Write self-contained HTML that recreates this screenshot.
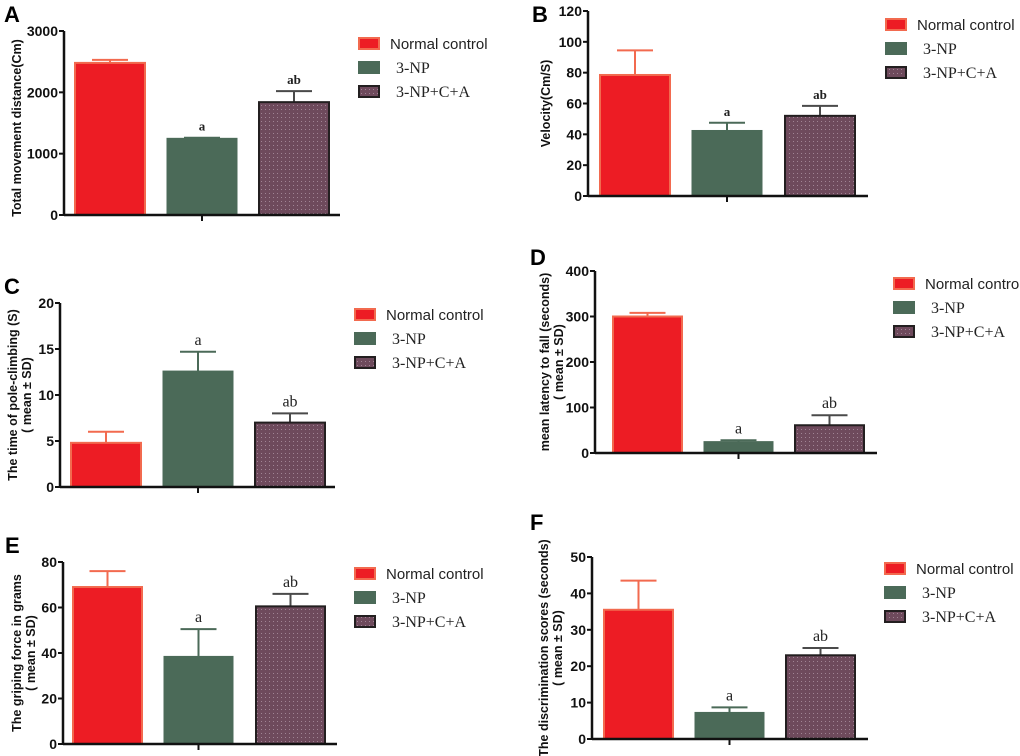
<!DOCTYPE html>
<html><head><meta charset="utf-8">
<style>
html,body{margin:0;padding:0;background:#fff;width:1020px;height:756px;overflow:hidden}
svg{display:block}
</style></head>
<body>
<svg id="fig" width="1020" height="756" viewBox="0 0 1020 756" xmlns="http://www.w3.org/2000/svg">
<defs>
<pattern id="dots" width="4" height="4" patternUnits="userSpaceOnUse">
<rect width="4" height="4" fill="#6e4a5c"/><rect x="1" y="1" width="1" height="1" fill="#a08494"/>
</pattern>
</defs>
</svg>
<script>
const groups = ["Normal control","3-NP","3-NP+C+A"];
const valuesA = [2480,1250,1840]; const errA = [50,10,180]; const sigA = ["","a","ab"];
const ticksA = [0,1000,2000,3000];
const valuesB = [78.5,42.5,52]; const errB = [16,5,6.5]; const sigB = ["","a","ab"];
const ticksB = [0,20,40,60,80,100,120];
const valuesC = [4.8,12.6,7.0]; const errC = [1.2,2.1,1.0]; const sigC = ["","a","ab"];
const ticksC = [0,5,10,15,20];
const valuesD = [300,25,61]; const errD = [8,3,22]; const sigD = ["","a","ab"];
const ticksD = [0,100,200,300,400];
const valuesE = [69,38.5,60.5]; const errE = [7,12,5.5]; const sigE = ["","a","ab"];
const ticksE = [0,20,40,60,80];
const valuesF = [35.5,7.3,23]; const errF = [8,1.4,2]; const sigF = ["","a","ab"];
const ticksF = [0,10,20,30,40,50];

const svg = document.getElementById('fig');
const NS = 'http://www.w3.org/2000/svg';
function mk(tag, attrs, parent){const e=document.createElementNS(NS,tag);for(const k in attrs)e.setAttribute(k,attrs[k]);(parent||svg).appendChild(e);return e;}
const fills=['#ed1c24','#4b6a58','url(#dots)'];
const strokes=['#f26a4f','#4b6a58','#231f20'];
const errCol=['#f26a4f','#4b6a58','#4a4a4a'];

function panel(p){
  const g=mk('g',{});
  
  
  const max=p.ticks[p.ticks.length-1];
  const y=v=>p.y0-(v/max)*(p.y0-p.yTop);
  const lt=mk('text',{x:p.letterX,y:p.letterY,'font-family':'Liberation Sans, sans-serif','font-size':22,'font-weight':'bold',fill:'#000'},g);
  lt.textContent=p.id;
  
  
  p.vals.forEach((v,i)=>{
    const x0=p.bars[i], w=p.bw;
    const top=y(v), et=y(v+p.errs[i]), cx=x0+w/2;
    const el=mk('line',{x1:cx,x2:cx,y1:top,y2:et,stroke:errCol[i],'stroke-width':2},g);
    
    
    const ec=mk('line',{x1:cx-18,x2:cx+18,y1:et,y2:et,stroke:errCol[i],'stroke-width':2},g);
    
    
    const r=mk('rect',{x:x0+1,y:top,width:w-2,height:p.y0-top,fill:fills[i],stroke:strokes[i],'stroke-width':i==1?1:2},g);
    
    
    if(p.sig[i]){
      const t=mk('text',{x:cx,y:et-7,'text-anchor':'middle','font-family':'Liberation Serif, serif','font-size':p.sigBold?13:16,'font-weight':p.sigBold?'bold':'normal',fill:'#222'},g);
      t.textContent=p.sig[i];
      
      
    }
  });
  const ya=mk('line',{x1:p.ax,x2:p.ax,y1:p.yTop,y2:p.y0+1,stroke:'#111','stroke-width':2.5},g);
  
  
  const xa=mk('line',{x1:p.ax,x2:p.xEnd,y1:p.y0,y2:p.y0,stroke:'#111','stroke-width':2.5},g);
  
  
  const mid=(p.bars[1]+p.bw/2);
  mk('line',{x1:mid,x2:mid,y1:p.y0,y2:p.y0+6,stroke:'#111','stroke-width':2},g);
  p.ticks.forEach(t=>{
    const ty=y(t);
    mk('line',{x1:p.ax-5,x2:p.ax,y1:ty,y2:ty,stroke:'#111','stroke-width':2},g);
    const tl=mk('text',{x:p.ax-6,y:ty+5,'text-anchor':'end','font-family':'Liberation Sans, sans-serif','font-size':14,'font-weight':'bold',fill:'#111'},g);
    tl.textContent=t;
    
    
  });
  const cy=(p.y0+p.yTop)/2+p.titleShift;
  p.title.forEach((line,k)=>{
    const tx=p.titleX+k*14;
    const tt=mk('text',{x:tx,y:cy,transform:`rotate(-90 ${tx} ${cy})`,'text-anchor':'middle','font-family':'Liberation Sans, sans-serif','font-size':12.5,'font-weight':'bold',fill:'#111'},g);
    tt.textContent=line;
    
    
  });
  groups.forEach((name,i)=>{
    const ly=p.legY+i*24;
    const lb=mk('rect',{x:p.legX+1,y:ly+1,width:20,height:11,fill:fills[i],stroke:strokes[i],'stroke-width':2},g);
    
    
    const t=mk('text',{x:p.legX+(i==0?32:38),y:ly+12,'font-family':i==0?'Liberation Sans, sans-serif':'Liberation Serif, serif','font-size':i==0?15:16,fill:'#222'},g);
    t.textContent=name;
    
    
  });
}

panel({id:'A',vals:valuesA,errs:errA,sig:sigA,ticks:ticksA,ax:64,y0:215,yTop:31,xEnd:340,bars:[74,166,258],bw:72,letterX:4,letterY:22,title:['Total movement distance(Cm)'],titleX:21,titleShift:5,legX:358,legY:37,sigBold:true});
panel({id:'B',vals:valuesB,errs:errB,sig:sigB,ticks:ticksB,ax:588,y0:196,yTop:11,xEnd:868,bars:[599,691,784],bw:72,letterX:532,letterY:22,title:['Velocity(Cm/S)'],titleX:550,titleShift:0,legX:885,legY:18,sigBold:true});
panel({id:'C',vals:valuesC,errs:errC,sig:sigC,ticks:ticksC,ax:60,y0:487,yTop:303,xEnd:335,bars:[70,162,254],bw:72,letterX:4,letterY:294,title:['The time of pole-climbing (S)','( mean ± SD)'],titleX:17,titleShift:0,legX:354,legY:308});
panel({id:'D',vals:valuesD,errs:errD,sig:sigD,ticks:ticksD,ax:595,y0:453,yTop:271,xEnd:877,bars:[612,703,794],bw:71,letterX:530,letterY:265,title:['mean latency to fall (seconds)','( mean ± SD)'],titleX:549,titleShift:0,legX:893,legY:277});
panel({id:'E',vals:valuesE,errs:errE,sig:sigE,ticks:ticksE,ax:63,y0:744,yTop:562,xEnd:337,bars:[72,163,255],bw:71,letterX:5,letterY:553,title:['The griping force in grams','( mean ± SD)'],titleX:21,titleShift:0,legX:354,legY:567});
panel({id:'F',vals:valuesF,errs:errF,sig:sigF,ticks:ticksF,ax:592,y0:739,yTop:557,xEnd:868,bars:[603,694,785],bw:71,letterX:530,letterY:530,title:['The discrimination scores (seconds)','( mean ± SD)'],titleX:548,titleShift:0,legX:884,legY:562});
</script>
</body></html>
